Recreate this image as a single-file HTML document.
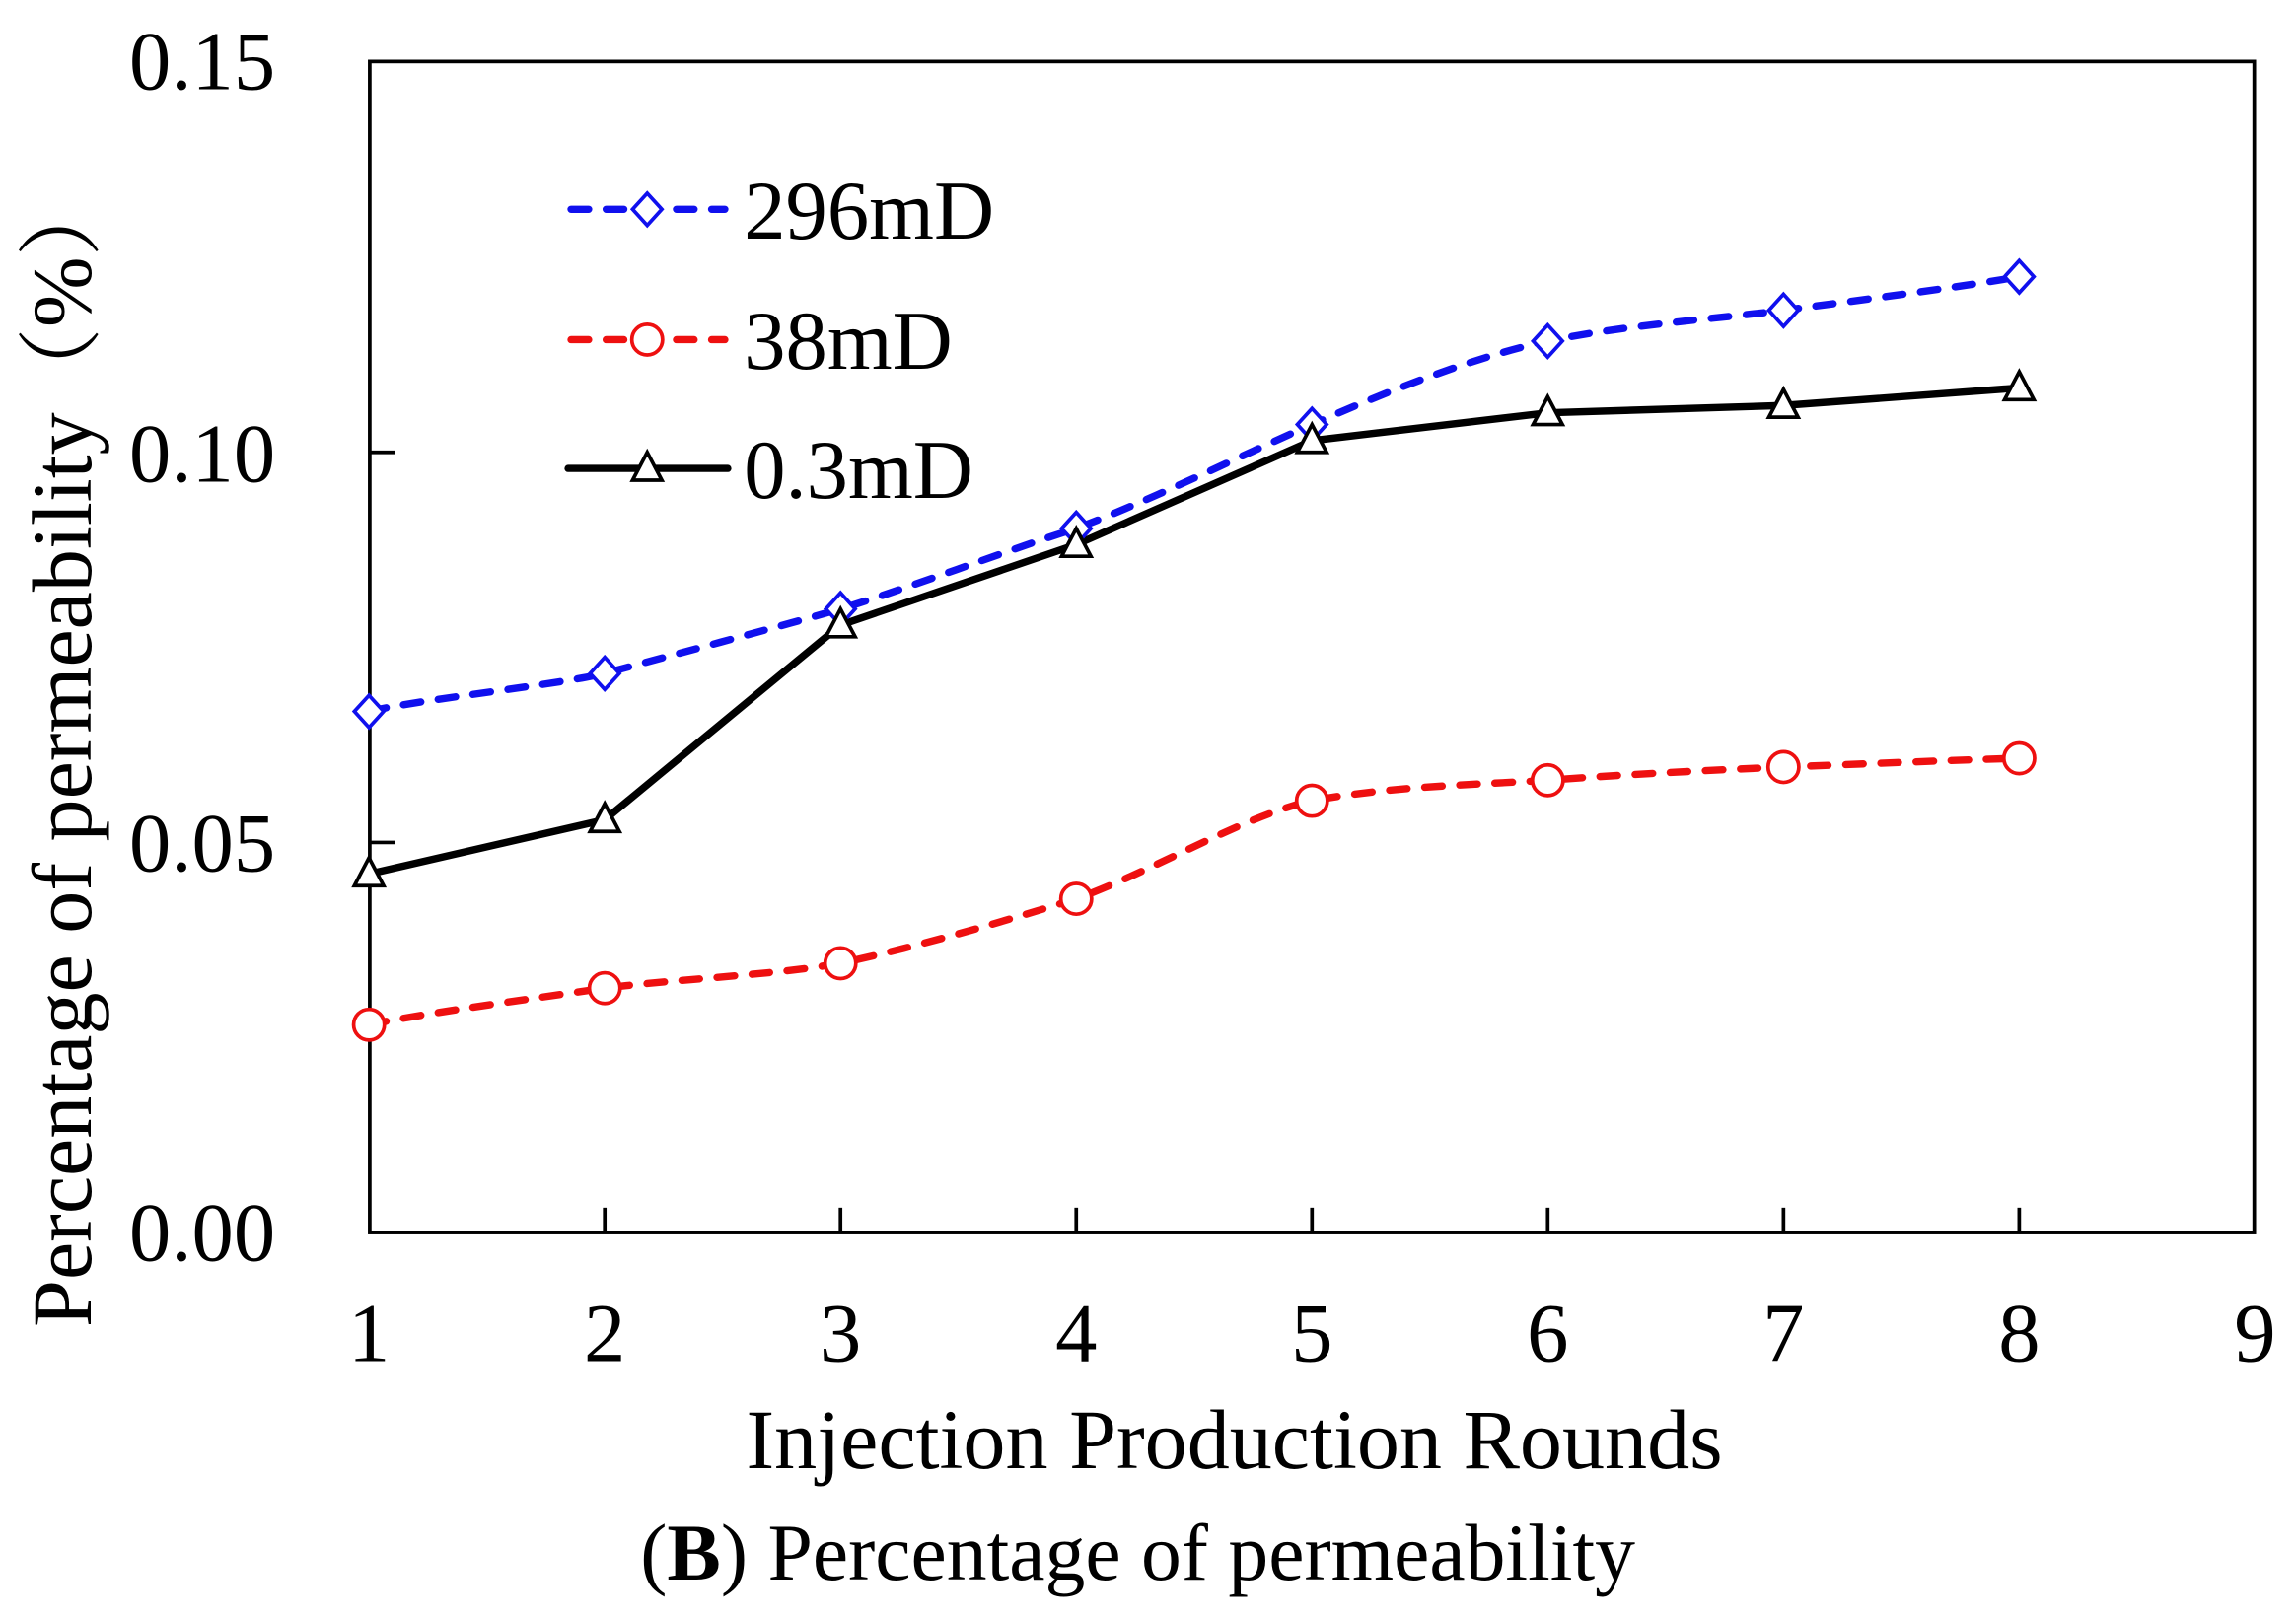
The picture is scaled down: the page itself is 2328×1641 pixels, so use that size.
<!DOCTYPE html>
<html><head><meta charset="utf-8"><style>
html,body{margin:0;padding:0;background:#fff;}
svg{display:block;}
text{font-family:"Liberation Serif","Noto Serif CJK SC",serif;fill:#000;}
</style></head><body>
<svg width="2328" height="1641" viewBox="0 0 1568 1105.3" xmlns="http://www.w3.org/2000/svg">
<rect x="252.5" y="42" width="1287" height="800" fill="none" stroke="#000" stroke-width="2.5"/>
<g stroke="#000" stroke-width="2.5">
<line x1="252.5" y1="309" x2="270" y2="309"/>
<line x1="252.5" y1="575.5" x2="270" y2="575.5"/>
<line x1="413" y1="842" x2="413" y2="825"/>
<line x1="574" y1="842" x2="574" y2="825"/>
<line x1="735" y1="842" x2="735" y2="825"/>
<line x1="896" y1="842" x2="896" y2="825"/>
<line x1="1057" y1="842" x2="1057" y2="825"/>
<line x1="1218" y1="842" x2="1218" y2="825"/>
<line x1="1379" y1="842" x2="1379" y2="825"/>
</g>
<g font-size="57" text-anchor="end">
<text x="188" y="61">0.15</text>
<text x="188" y="329">0.10</text>
<text x="188" y="595">0.05</text>
<text x="188" y="861">0.00</text>
</g>
<g font-size="57" text-anchor="middle">
<text x="252" y="930">1</text><text x="413" y="930">2</text><text x="574" y="930">3</text>
<text x="735" y="930">4</text><text x="896" y="930">5</text><text x="1057" y="930">6</text>
<text x="1218" y="930">7</text><text x="1379" y="930">8</text><text x="1540" y="930">9</text>
</g>
<text x="843" y="1003" font-size="58" text-anchor="middle">Injection Production Rounds</text>
<text x="777" y="1079" font-size="55" text-anchor="middle">(<tspan font-weight="bold">B</tspan>) Percentage of permeability</text>
<text transform="translate(62,512) rotate(-90)" font-size="58" text-anchor="middle">Percentage of permeability（%）</text>

<path d="M252,486 C285,478 380,468 413,460 C450,450 540,426 574,416 C620,402 690,375 735,361 C790,340 850,310 896,290 C950,266 1010,243 1057,233 C1110,222 1170,218 1218,212 C1270,205 1340,196 1379,189" fill="none" stroke="#1010ee" stroke-width="5" stroke-dasharray="12,12" stroke-linecap="round"/>
<path d="M252,700 C290,692 380,680 413,675 C460,669 530,666 574,658 C630,646 690,628 735,614 C790,594 850,557 896,547 C950,537 1010,536 1057,533 C1110,529 1170,526 1218,524 C1270,522 1340,519 1379,518" fill="none" stroke="#ee1010" stroke-width="5" stroke-dasharray="12,12" stroke-linecap="round"/>
<polyline points="252,597 413,560 574,427 735,372 896,301 1057,282 1218,277 1379,265" fill="none" stroke="#000" stroke-width="5"/>
<g fill="#fff" stroke="#1010ee" stroke-width="2.5">
<path d="M252,475 l10,11 -10,11 -10,-11z"/><path d="M413,449 l10,11 -10,11 -10,-11z"/><path d="M574,405 l10,11 -10,11 -10,-11z"/><path d="M735,350 l10,11 -10,11 -10,-11z"/>
<path d="M896,279 l10,11 -10,11 -10,-11z"/><path d="M1057,222 l10,11 -10,11 -10,-11z"/><path d="M1218,201 l10,11 -10,11 -10,-11z"/><path d="M1379,178 l10,11 -10,11 -10,-11z"/>
</g>
<g fill="#fff" stroke="#ee1010" stroke-width="2.5">
<circle cx="252" cy="700" r="10.5"/><circle cx="413" cy="675" r="10.5"/><circle cx="574" cy="658" r="10.5"/><circle cx="735" cy="614" r="10.5"/>
<circle cx="896" cy="547" r="10.5"/><circle cx="1057" cy="533" r="10.5"/><circle cx="1218" cy="524" r="10.5"/><circle cx="1379" cy="518" r="10.5"/>
</g>
<g fill="#fff" stroke="#000" stroke-width="2.5">
<path d="M252,586 l10,19 h-20z"/><path d="M413,549 l10,19 h-20z"/><path d="M574,416 l10,19 h-20z"/><path d="M735,361 l10,19 h-20z"/>
<path d="M896,290 l10,19 h-20z"/><path d="M1057,271 l10,19 h-20z"/><path d="M1218,266 l10,19 h-20z"/><path d="M1379,254 l10,19 h-20z"/>
</g>
<line x1="390" y1="143" x2="495" y2="143" stroke="#1010ee" stroke-width="5" stroke-dasharray="12,12" stroke-linecap="round"/>
<path d="M442,132 l10,11 -10,11 -10,-11z" fill="#fff" stroke="#1010ee" stroke-width="2.5"/>
<line x1="390" y1="232" x2="495" y2="232" stroke="#ee1010" stroke-width="5" stroke-dasharray="12,12" stroke-linecap="round"/>
<circle cx="442" cy="232" r="10.5" fill="#fff" stroke="#ee1010" stroke-width="2.5"/>
<line x1="388" y1="320" x2="497" y2="320" stroke="#000" stroke-width="5" stroke-linecap="round"/>
<path d="M442,309 l10,19 h-20z" fill="#fff" stroke="#000" stroke-width="2.5"/>
<g font-size="57">
<text x="508" y="163">296mD</text>
<text x="508" y="252">38mD</text>
<text x="508" y="340">0.3mD</text>
</g>
</svg>
</body></html>
